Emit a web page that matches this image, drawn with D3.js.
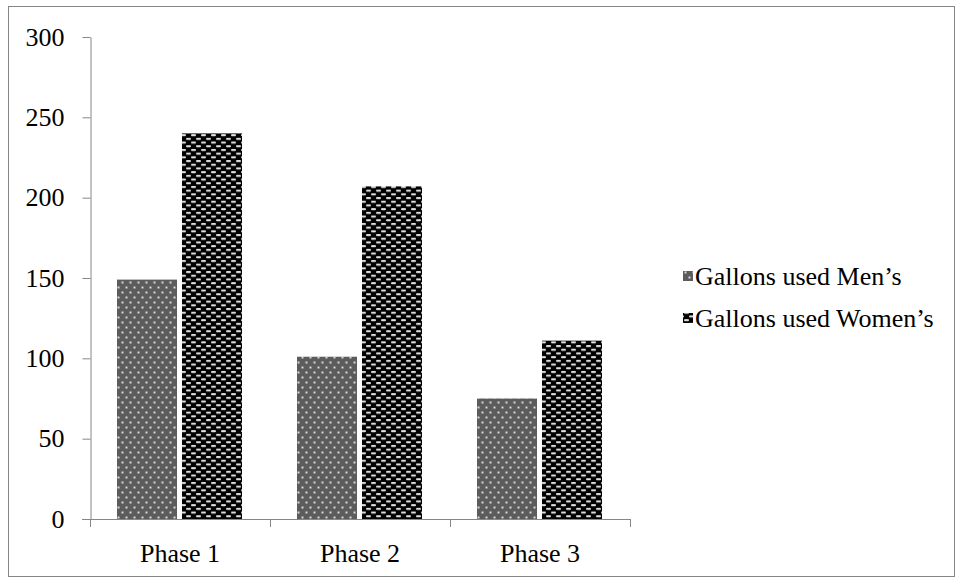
<!DOCTYPE html>
<html>
<head>
<meta charset="utf-8">
<script src="https://cdn.jsdelivr.net/npm/d3@7"></script>
<style>
  body { margin: 0; background: #fff; }
  svg text { font-family: "Liberation Serif", "Times New Roman", "DejaVu Serif", serif; }
</style>
</head>
<body>
<svg id="chart" width="958" height="580"></svg>
<script>
// ---- data ----
var phases = ["Phase 1", "Phase 2", "Phase 3"]
var seriesNames = ["Gallons used Men\u2019s", "Gallons used Women\u2019s"]
var mens = [149, 101, 75]
var womens = [240, 207, 111]
var yTicks = [0, 50, 100, 150, 200, 250, 300]

var serif = "'Liberation Serif', 'Times New Roman', 'DejaVu Serif', serif"
var svg = d3.select("#chart")
var axisColor = "#868686"

// outer frame
svg.append("rect")
  .attr("x", 8.5).attr("y", 6.5)
  .attr("width", 946).attr("height", 570)
  .attr("fill", "none").attr("stroke", axisColor).attr("stroke-width", 1)

// ---- patterns ----
var defs = svg.append("defs")

var pMen = defs.append("pattern")
  .attr("id", "pmen").attr("patternUnits", "userSpaceOnUse")
  .attr("width", 8).attr("height", 10)
pMen.append("rect").attr("width", 8).attr("height", 10).attr("fill", "#5c5c5c")
pMen.append("rect").attr("x", 1.5).attr("y", 1.5).attr("width", 2).attr("height", 2).attr("fill", "#d8d8d8")
pMen.append("rect").attr("x", 5.5).attr("y", 6.5).attr("width", 2).attr("height", 2).attr("fill", "#d8d8d8")

var pWomen = defs.append("pattern")
  .attr("id", "pwomen").attr("patternUnits", "userSpaceOnUse")
  .attr("width", 10).attr("height", 7.4)
pWomen.append("rect").attr("width", 10).attr("height", 7.4).attr("fill", "#000")
pWomen.append("rect").attr("x", 1).attr("y", 1).attr("width", 5).attr("height", 2).attr("rx", 1).attr("fill", "#dcdcdc")
pWomen.append("rect").attr("x", 6).attr("y", 4.7).attr("width", 5).attr("height", 2).attr("rx", 1).attr("fill", "#dcdcdc")
pWomen.append("rect").attr("x", -4).attr("y", 4.7).attr("width", 5).attr("height", 2).attr("rx", 1).attr("fill", "#dcdcdc")

// ---- scales ----
var x = d3.scaleBand().domain(phases).range([90, 630])
var y = d3.scaleLinear().domain([0, 300]).range([519, 37])
var barW = 60, gap = 5

// ---- bars ----
var fills = ["url(#pmen)", "url(#pwomen)"]
var series = [mens, womens]
series.forEach(function(vals, s) {
  svg.append("g").selectAll("rect")
    .data(vals).enter().append("rect")
    .attr("x", function(d, i){ return x(phases[i]) + 27 + s * (barW + gap) })
    .attr("y", function(d){ return y(d) })
    .attr("width", barW)
    .attr("height", function(d){ return y(0) - y(d) })
    .attr("fill", fills[s])
})

// ---- axes ----
var yAxis = svg.append("g")
  .attr("transform", "translate(90.5,0)")
  .call(d3.axisLeft(y).tickValues(yTicks).tickSize(8).tickPadding(18).tickSizeOuter(0))
yAxis.attr("font-family", null)
yAxis.select(".domain").attr("stroke", axisColor)
yAxis.selectAll(".tick line").attr("stroke", axisColor)
yAxis.selectAll(".tick text").attr("fill", "#000")
  .style("font-size", "26px").style("font-family", serif)

var xAxis = svg.append("g")
  .attr("transform", "translate(0," + (y(0) + 0.5) + ")")
  .call(d3.axisBottom(x).tickSize(0).tickPadding(24).tickSizeOuter(0))
xAxis.attr("font-family", null)
xAxis.select(".domain").attr("stroke", axisColor).attr("d", "M82,0H630")
xAxis.selectAll(".tick text").attr("fill", "#000")
  .style("font-size", "26px").style("font-family", serif)

// category ticks at band boundaries
svg.append("g").selectAll("line")
  .data(phases.concat(["end"])).enter().append("line")
  .attr("x1", function(d, i){ return Math.round(x.range()[0] + i * x.bandwidth()) + 0.5 })
  .attr("x2", function(d, i){ return Math.round(x.range()[0] + i * x.bandwidth()) + 0.5 })
  .attr("y1", y(0)).attr("y2", y(0) + 8)
  .attr("stroke", axisColor)

// ---- legend ----
var legend = svg.append("g").attr("transform", "translate(683,0)")
var legBase = [285, 327]
seriesNames.forEach(function(name, i) {
  legend.append("rect")
    .attr("x", 0).attr("y", legBase[i] - 14)
    .attr("width", 10).attr("height", 10)
    .attr("fill", fills[i])
  legend.append("text")
    .attr("x", 12).attr("y", legBase[i])
    .style("font-size", "26px").style("font-family", serif)
    .text(name)
})
</script>
</body>
</html>
